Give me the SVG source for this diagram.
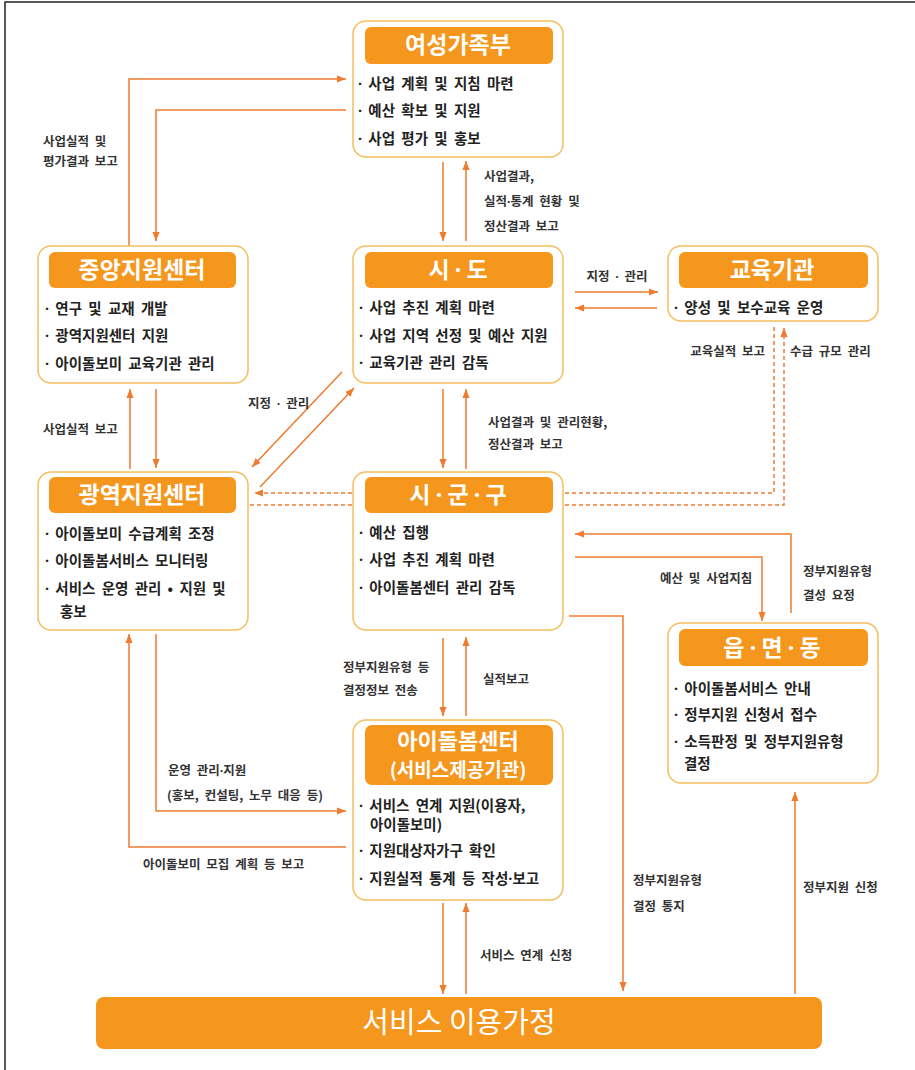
<svg xmlns="http://www.w3.org/2000/svg" width="915" height="1070" viewBox="0 0 915 1070">
<style>
text{font-family:"Noto Sans CJK KR","Noto Sans CJK SC",sans-serif}
.box{fill:#fff;stroke:#F5BE5E;stroke-width:1.5}
.hdr{fill:#F5961D}
.ht{font-size:23px;font-weight:bold;fill:#fff;text-anchor:middle}
.bt{font-size:14.5px;font-weight:bold;fill:#222;word-spacing:3px}
.lb{font-size:12.5px;font-weight:bold;fill:#333;word-spacing:3px}
.d{font-family:"Noto Sans","DejaVu Sans",sans-serif}
.ln{fill:none;stroke:#EE7B30;stroke-width:1.5;marker-end:url(#ah)}
.dash{stroke-dasharray:4 3}
</style>
<defs>
<marker id="ah" viewBox="0 0 10 10" refX="10" refY="5" markerWidth="9" markerHeight="9" markerUnits="userSpaceOnUse" orient="auto">
<path d="M0,1 L10,5 L0,9 z" fill="#EE7B30"/>
</marker>
</defs>
<rect width="915" height="1070" fill="#fff"/>
<path d="M5,1070 V2 H915" fill="none" stroke="#222" stroke-width="1.5"/>

<g id="connectors">
<path class="ln" d="M129,246 V79 H346"/>
<path class="ln" d="M346,110 H156 V241"/>
<path class="ln" d="M443,162 V241"/>
<path class="ln" d="M466,241 V161"/>
<path class="ln" d="M575,292 H658"/>
<path class="ln" d="M657,308 H575"/>
<path class="ln" d="M156,389 V468"/>
<path class="ln" d="M130,469 V389"/>
<path class="ln" d="M342,372 L252,467"/>
<path class="ln" d="M260,487 L354,388"/>
<path class="ln" d="M443,389 V468"/>
<path class="ln" d="M466,469 V389"/>
<path class="ln dash" d="M774,327 V493 H254"/>
<path class="ln dash" d="M250,505 H784 V328"/>
<path class="ln" d="M791,613 V534 H575"/>
<path class="ln" d="M575,557 H762 V621"/>
<path class="ln" d="M569,616 H623 V991"/>
<path class="ln" d="M443,638 V716"/>
<path class="ln" d="M466,716 V637"/>
<path class="ln" d="M156,634 V811 H346"/>
<path class="ln" d="M346,847 H129 V634"/>
<path class="ln" d="M443,903 V994"/>
<path class="ln" d="M466,994 V903"/>
<path class="ln" d="M795,994 V792"/>
</g>

<g id="labels">
<text class="lb" x="43" y="146">사업실적 및</text>
<text class="lb" x="43" y="166">평가결과 보고</text>
<text class="lb" x="484" y="181">사업결과,</text>
<text class="lb" x="484" y="206">실적<tspan class="d">·</tspan>통계 현황 및</text>
<text class="lb" x="484" y="231">정산결과 보고</text>
<text class="lb" x="617" y="281" text-anchor="middle">지정 <tspan class="d">·</tspan> 관리</text>
<text class="lb" x="765" y="356" text-anchor="end">교육실적 보고</text>
<text class="lb" x="790" y="356">수급 규모 관리</text>
<text class="lb" x="43" y="434">사업실적 보고</text>
<text class="lb" x="248" y="408">지정 <tspan class="d">·</tspan> 관리</text>
<text class="lb" x="488" y="427">사업결과 및 관리현황,</text>
<text class="lb" x="488" y="449">정산결과 보고</text>
<text class="lb" x="660" y="583">예산 및 사업지침</text>
<text class="lb" x="803" y="576">정부지원유형</text>
<text class="lb" x="803" y="600">결성 요정</text>
<text class="lb" x="343" y="672">정부지원유형 등</text>
<text class="lb" x="343" y="695">결정정보 전송</text>
<text class="lb" x="483" y="684">실적보고</text>
<text class="lb" x="168" y="775">운영 관리<tspan class="d">·</tspan>지원</text>
<text class="lb" x="167" y="800">(홍보, 컨설팅, 노무 대응 등)</text>
<text class="lb" x="143" y="869">아이돌보미 모집 계획 등 보고</text>
<text class="lb" x="633" y="885">정부지원유형</text>
<text class="lb" x="633" y="911">결정 통지</text>
<text class="lb" x="803" y="892">정부지원 신청</text>
<text class="lb" x="480" y="960">서비스 연계 신청</text>
</g>

<g id="n-mogef">
<rect class="box" x="353" y="21" width="210" height="136" rx="13"/>
<rect class="hdr" x="365" y="27" width="188" height="37" rx="6"/>
<text class="ht" x="458" y="53">여성가족부</text>
<text class="bt" x="358" y="89"><tspan class="d">·</tspan> 사업 계획 및 지침 마련</text>
<text class="bt" x="358" y="116"><tspan class="d">·</tspan> 예산 확보 및 지원</text>
<text class="bt" x="358" y="144"><tspan class="d">·</tspan> 사업 평가 및 홍보</text>
</g>

<g id="n-central">
<rect class="box" x="38" y="246" width="210" height="137" rx="13"/>
<rect class="hdr" x="49" y="252" width="187" height="36" rx="6"/>
<text class="ht" x="142" y="278">중앙지원센터</text>
<text class="bt" x="45" y="314"><tspan class="d">·</tspan> 연구 및 교재 개발</text>
<text class="bt" x="45" y="341"><tspan class="d">·</tspan> 광역지원센터 지원</text>
<text class="bt" x="45" y="369"><tspan class="d">·</tspan> 아이돌보미 교육기관 관리</text>
</g>

<g id="n-sido">
<rect class="box" x="353" y="246" width="210" height="137" rx="13"/>
<rect class="hdr" x="365" y="252" width="188" height="36" rx="6"/>
<text class="ht" x="458" y="278">시 <tspan class="d">·</tspan> 도</text>
<text class="bt" x="359" y="313"><tspan class="d">·</tspan> 사업 추진 계획 마련</text>
<text class="bt" x="359" y="341"><tspan class="d">·</tspan> 사업 지역 선정 및 예산 지원</text>
<text class="bt" x="359" y="368"><tspan class="d">·</tspan> 교육기관 관리 감독</text>
</g>

<g id="n-edu">
<rect class="box" x="668" y="246" width="210" height="75" rx="13"/>
<rect class="hdr" x="679" y="252" width="189" height="36" rx="6"/>
<text class="ht" x="772" y="278">교육기관</text>
<text class="bt" x="674" y="313"><tspan class="d">·</tspan> 양성 및 보수교육 운영</text>
</g>

<g id="n-regional">
<rect class="box" x="38" y="472" width="210" height="158" rx="13"/>
<rect class="hdr" x="49" y="477" width="187" height="36" rx="6"/>
<text class="ht" x="142" y="503">광역지원센터</text>
<text class="bt" x="45" y="539"><tspan class="d">·</tspan> 아이돌보미 수급계획 조정</text>
<text class="bt" x="45" y="566"><tspan class="d">·</tspan> 아이돌봄서비스 모니터링</text>
<text class="bt" x="45" y="594"><tspan class="d">·</tspan> 서비스 운영 관리 • 지원 및</text>
<text class="bt" x="60" y="617">홍보</text>
</g>

<g id="n-sigungu">
<rect class="box" x="353" y="472" width="210" height="158" rx="13"/>
<rect class="hdr" x="365" y="477" width="188" height="36" rx="6"/>
<text class="ht" x="458" y="503">시 <tspan class="d">·</tspan> 군 <tspan class="d">·</tspan> 구</text>
<text class="bt" x="359" y="538"><tspan class="d">·</tspan> 예산 집행</text>
<text class="bt" x="359" y="565"><tspan class="d">·</tspan> 사업 추진 계획 마련</text>
<text class="bt" x="359" y="593"><tspan class="d">·</tspan> 아이돌봄센터 관리 감독</text>
</g>

<g id="n-eup">
<rect class="box" x="668" y="623" width="210" height="160" rx="13"/>
<rect class="hdr" x="679" y="629" width="189" height="37" rx="6"/>
<text class="ht" x="772" y="656">읍 <tspan class="d">·</tspan> 면 <tspan class="d">·</tspan> 동</text>
<text class="bt" x="674" y="694"><tspan class="d">·</tspan> 아이돌봄서비스 안내</text>
<text class="bt" x="674" y="720"><tspan class="d">·</tspan> 정부지원 신청서 접수</text>
<text class="bt" x="674" y="747"><tspan class="d">·</tspan> 소득판정 및 정부지원유형</text>
<text class="bt" x="684" y="769">결정</text>
</g>

<g id="n-center">
<rect class="box" x="353" y="720" width="210" height="180" rx="13"/>
<rect class="hdr" x="365" y="725" width="188" height="60" rx="7"/>
<text class="ht" x="458" y="749" style="font-size:22px">아이돌봄센터</text>
<text class="ht" x="458" y="777" style="font-size:19px">(서비스제공기관)</text>
<text class="bt" x="359" y="811"><tspan class="d">·</tspan> 서비스 연계 지원(이용자,</text>
<text class="bt" x="370" y="830">아이돌보미)</text>
<text class="bt" x="359" y="856"><tspan class="d">·</tspan> 지원대상자가구 확인</text>
<text class="bt" x="359" y="884"><tspan class="d">·</tspan> 지원실적 통계 등 작성<tspan class="d">·</tspan>보고</text>
</g>

<g id="n-family">
<rect class="hdr" x="96" y="997" width="726" height="52" rx="8"/>
<text x="459" y="1033" text-anchor="middle" style="font-size:29px;fill:#fff">서비스 이용가정</text>
</g>
</svg>
